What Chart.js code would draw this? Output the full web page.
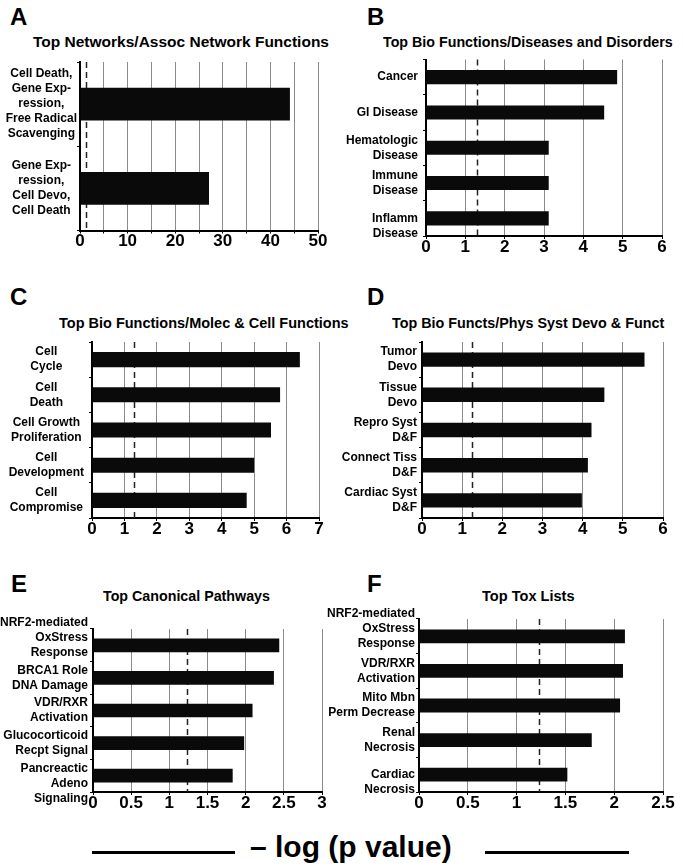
<!DOCTYPE html>
<html>
<head>
<meta charset="utf-8">
<script src="https://cdn.jsdelivr.net/npm/chart.js@4.4.1/dist/chart.umd.min.js"></script>
<style>
  body { margin: 0; width: 683px; height: 868px; position: relative; overflow: hidden; background: #fff;
         font-family: 'Liberation Sans', Arial, sans-serif; color: #000; }
  canvas { position: absolute; }
  .letter { position: absolute; font-size: 24px; line-height: 24px; font-weight: bold; }
  .title { position: absolute; font-size: 15.5px; line-height: 18px; font-weight: bold; white-space: nowrap; transform-origin: 0 0; }
  .axisline { position: absolute; height: 2.5px; background: #000; }
  .axistitle { position: absolute; font-size: 30px; line-height: 30px; font-weight: bold; white-space: nowrap; }
</style>
</head>
<body>
<div class="letter" style="left:10px;top:5px">A</div>
<div class="letter" style="left:367px;top:5px">B</div>
<div class="letter" style="left:10px;top:285px">C</div>
<div class="letter" style="left:367px;top:285px">D</div>
<div class="letter" style="left:11px;top:572px">E</div>
<div class="letter" style="left:367px;top:572px">F</div>

<div class="axisline" style="left:92px;top:851px;width:143px"></div>
<div class="axistitle" style="left:250px;top:832px">– log (p value)</div>
<div class="axisline" style="left:485px;top:851px;width:144px"></div>

<script>
// panel titles
const titles = [
  'Top Networks/Assoc Network Functions',
  'Top Bio Functions/Diseases and Disorders',
  'Top Bio Functions/Molec & Cell Functions',
  'Top Bio Functs/Phys Syst Devo & Funct',
  'Top Canonical Pathways',
  'Top Tox Lists'
]

// A - networks
const networkLabels = [
  ['Cell Death,', 'Gene Exp-', 'ression,', 'Free Radical', 'Scavenging'],
  ['Gene Exp-', 'ression,', 'Cell Devo,', 'Cell Death']
]
const networkScores = [44.1, 27.1]

// B - diseases and disorders
const diseaseLabels = ['Cancer', 'GI Disease', ['Hematologic', 'Disease'], ['Immune', 'Disease'], ['', 'Inflamm', 'Disease']]
const diseaseScores = [4.86, 4.53, 3.12, 3.12, 3.12]

// C - molecular & cellular functions
const cellFuncLabels = [['Cell', 'Cycle'], ['Cell', 'Death'], ['Cell Growth', 'Proliferation'], ['Cell', 'Development'], ['Cell', 'Compromise']]
const cellFuncScores = [6.41, 5.8, 5.52, 5.0, 4.77]

// D - physiological system development & function
const physLabels = [['Tumor', 'Devo'], ['Tissue', 'Devo'], ['Repro Syst', 'D&F'], ['Connect Tiss', 'D&F'], ['Cardiac Syst', 'D&F']]
const physScores = [5.54, 4.54, 4.22, 4.13, 3.98]

// E - canonical pathways
const pathwayLabels = [
  ['NRF2-mediated', 'OxStress', 'Response', ''], ['BRCA1 Role', 'DNA Damage'], ['VDR/RXR', 'Activation'],
  ['Glucocorticoid', 'Recpt Signal'], ['', 'Pancreactic', 'Adeno', 'Signaling']
]
const pathwayScores = [2.44, 2.37, 2.09, 1.98, 1.83]

// F - tox lists
const toxLabels = [
  ['NRF2-mediated', 'OxStress', 'Response', ''], ['VDR/RXR', 'Activation'], ['Mito Mbn', 'Perm Decrease'],
  ['Renal', 'Necrosis'], ['', 'Cardiac', 'Necrosis']
]
const toxScores = [2.11, 2.09, 2.06, 1.77, 1.52]

// x axis ranges, grid steps, labelled steps, significance cut-offs (-log 0.05)
const axisMax = [50, 6, 7, 6, 3, 2.5]
const gridStep = [5, 1, 1, 1, 0.5, 0.5]
const labelStep = [10, 1, 1, 1, 0.5, 0.5]
const cutoffs = [1.3, 1.3, 1.3, 1.25, 1.23, 1.23]

const fontFamily = "'Liberation Sans', Arial, sans-serif"

// layout of each panel (chart area in page pixels), title centre and horizontal squeeze
const layouts = [
  { left: 0,   x0: 80,  x1: 318, y0: 58,  y1: 236, tcx: 181, tcy: 42,  sx: 1.0,  bar: 0.39, pad: 0, align: 'center' },
  { left: 342, x0: 426, x1: 662, y0: 58,  y1: 236, tcx: 528, tcy: 42,  sx: 0.92, bar: 0.40, pad: 5, align: 'near' },
  { left: 0,   x0: 92,  x1: 319, y0: 342, y1: 518, tcx: 204, tcy: 323, sx: 0.935, bar: 0.43, pad: 5, align: 'center' },
  { left: 342, x0: 422, x1: 663, y0: 342, y1: 518, tcx: 528, tcy: 323, sx: 0.925, bar: 0.41, pad: 2, align: 'near' },
  { left: 0,   x0: 93,  x1: 322, y0: 623, y1: 792, tcx: 186, tcy: 596, sx: 0.92, bar: 0.42, pad: 2, align: 'near' },
  { left: 318, x0: 419, x1: 663, y0: 619, y1: 792, tcx: 528, tcy: 596, sx: 0.94, bar: 0.40, pad: 1, align: 'near' }
]

const panelData = [
  [networkLabels, networkScores],
  [diseaseLabels, diseaseScores],
  [cellFuncLabels, cellFuncScores],
  [physLabels, physScores],
  [pathwayLabels, pathwayScores],
  [toxLabels, toxScores]
]

// dashed significance line, drawn through the x scale
const cutoffLine = {
  id: 'cutoffLine',
  beforeDatasetsDraw(chart, args, opts) {
    const { ctx, chartArea, scales } = chart
    const x = Math.round(scales.x.getPixelForValue(opts.value)) + 0.5
    ctx.save()
    ctx.strokeStyle = '#222'
    ctx.lineWidth = 1.5
    ctx.setLineDash([6, 4])
    ctx.beginPath()
    ctx.moveTo(x, chartArea.top)
    ctx.lineTo(x, chartArea.bottom)
    ctx.stroke()
    ctx.restore()
  }
}

const PAD_TOP = 26
const PAD_RIGHT = 18
const X_AXIS_H = 30

layouts.forEach((lay, i) => {
  const [labels, values] = panelData[i]

  const title = document.createElement('div')
  title.className = 'title'
  title.textContent = titles[i]
  document.body.appendChild(title)
  const tw = title.getBoundingClientRect().width * lay.sx
  title.style.left = (lay.tcx - tw / 2) + 'px'
  title.style.top = (lay.tcy - 9) + 'px'
  title.style.transform = 'scaleX(' + lay.sx + ')'

  const canvas = document.createElement('canvas')
  const top = lay.y0 - PAD_TOP
  const width = lay.x1 - lay.left + PAD_RIGHT
  const height = lay.y1 - top + X_AXIS_H + 2
  canvas.width = width
  canvas.height = height
  canvas.style.left = lay.left + 'px'
  canvas.style.top = top + 'px'
  canvas.style.width = width + 'px'
  canvas.style.height = height + 'px'
  document.body.appendChild(canvas)

  const step = labelStep[i]

  new Chart(canvas, {
    type: 'bar',
    data: {
      labels: labels,
      datasets: [{
        data: values,
        backgroundColor: '#0a0a0a',
        borderWidth: 0,
        barPercentage: lay.bar,
        categoryPercentage: 1
      }]
    },
    options: {
      indexAxis: 'y',
      responsive: false,
      devicePixelRatio: 1,
      animation: false,
      layout: { padding: { top: PAD_TOP, right: PAD_RIGHT, left: 0, bottom: 2 } },
      plugins: {
        legend: { display: false },
        tooltip: { enabled: false },
        cutoffLine: { value: cutoffs[i] }
      },
      scales: {
        x: {
          type: 'linear',
          min: 0,
          max: axisMax[i],
          afterFit: (scale) => { scale.height = X_AXIS_H },
          grid: { color: '#8a8a8a', lineWidth: 1, tickColor: '#000', tickLength: 3 },
          border: { color: '#000', width: 2 },
          ticks: {
            stepSize: gridStep[i],
            autoSkip: false,
            maxRotation: 0,
            padding: -2,
            color: '#000',
            font: { family: fontFamily, weight: 'bold', size: 17 },
            callback: (v) => {
              const k = v / step
              return Math.abs(k - Math.round(k)) < 1e-6 ? String(v) : ''
            }
          }
        },
        y: {
          type: 'category',
          afterFit: (scale) => { scale.width = lay.x0 - lay.left },
          grid: { drawOnChartArea: false, offset: true, tickColor: '#000', tickLength: 3 },
          border: { color: '#000', width: 2 },
          ticks: {
            autoSkip: false,
            padding: lay.pad,
            crossAlign: lay.align,
            color: '#000',
            font: { family: fontFamily, weight: 'bold', size: 12, lineHeight: '15px' }
          }
        }
      }
    },
    plugins: [cutoffLine]
  })
})
</script>
</body>
</html>
